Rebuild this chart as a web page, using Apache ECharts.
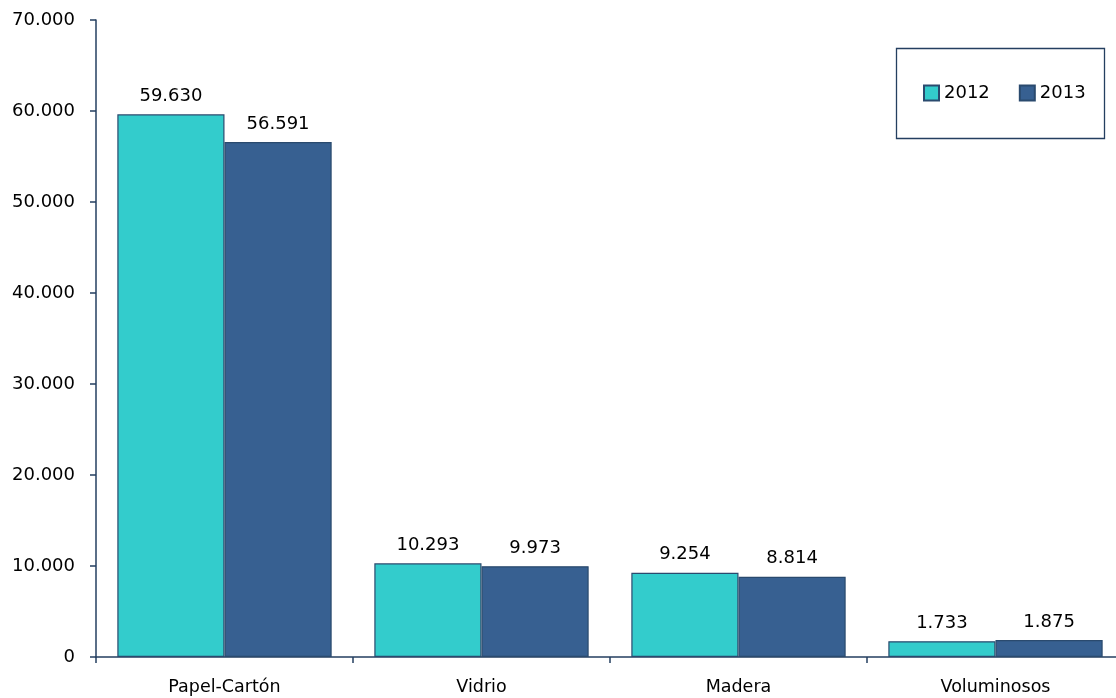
<!DOCTYPE html>
<html>
<head>
<meta charset="utf-8">
<script src="https://cdn.jsdelivr.net/npm/echarts@6/dist/echarts.min.js"></script>
<style>
  html, body { margin: 0; padding: 0; background: #fff; }
  #chart { width: 1116px; height: 698px; }
</style>
</head>
<body>
<div id="chart"></div>
<script>
// Tonnes collected by material, 2012 vs 2013
const categories = ['Papel-Cartón', 'Vidrio', 'Madera', 'Voluminosos'];
const values2012 = [59630, 10293, 9254, 1733];
const values2013 = [56591, 9973, 8814, 1875];
const seriesNames = ['2012', '2013'];

const FONT = '"DejaVu Sans", sans-serif';
const AXIS_COLOR = '#243F60';

// Spanish-style thousands separator: 59630 -> "59.630"
function fmt(v) {
  return String(Math.round(v)).replace(/\B(?=(\d{3})+(?!\d))/g, '.');
}

const chart = echarts.init(document.getElementById('chart'));

const barBase = {
  type: 'bar',
  barGap: '0%',
  barCategoryGap: '16.6%',
  label: {
    show: true,
    position: 'top',
    distance: 9,
    color: '#000',
    fontFamily: FONT,
    fontSize: 18,
    formatter: p => fmt(p.value)
  }
};

chart.setOption({
  animation: false,
  backgroundColor: '#ffffff',
  textStyle: { fontFamily: FONT },
  // plot area runs a little past the right edge of the canvas
  grid: {
    left: 96, top: 20, width: 1028, bottom: 41,
    containLabel: false,
    outerBoundsMode: 'none'
  },
  legend: {
    data: seriesNames,
    left: 923,
    top: 84,
    padding: 0,
    itemWidth: 15,
    itemHeight: 15,
    itemGap: 29,
    icon: 'rect',
    textStyle: { fontFamily: FONT, fontSize: 18, color: '#000' }
  },
  graphic: [{
    type: 'rect',
    left: 894,
    top: 46,
    shape: { width: 208, height: 90 },
    style: { fill: 'none', stroke: AXIS_COLOR, lineWidth: 1.3 },
    z: -1
  }],
  xAxis: {
    type: 'category',
    data: categories,
    axisLine: { lineStyle: { color: AXIS_COLOR, width: 1.5 } },
    axisTick: { show: true, length: 6, inside: false, lineStyle: { color: AXIS_COLOR, width: 1.5 } },
    axisLabel: { color: '#000', fontFamily: FONT, fontSize: 17.5, margin: 21 }
  },
  yAxis: {
    type: 'value',
    min: 0,
    max: 70000,
    interval: 10000,
    axisLine: { show: true, lineStyle: { color: AXIS_COLOR, width: 1.5 } },
    axisTick: { show: true, length: 6, lineStyle: { color: AXIS_COLOR, width: 1.5 } },
    splitLine: { show: false },
    axisLabel: { color: '#000', fontFamily: FONT, fontSize: 18, margin: 21, formatter: v => fmt(v) }
  },
  series: [
    Object.assign({}, barBase, {
      name: seriesNames[0],
      data: values2012,
      itemStyle: { color: '#33CCCC', borderColor: '#2A4A6E', borderWidth: 1.2 }
    }),
    Object.assign({}, barBase, {
      name: seriesNames[1],
      data: values2013,
      itemStyle: { color: '#376091', borderColor: '#2A4A6E', borderWidth: 1.2 }
    })
  ]
});
</script>
</body>
</html>
